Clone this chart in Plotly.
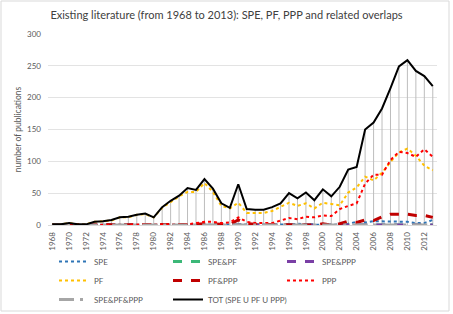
import plotly.graph_objects as go

years = list(range(1968, 2014))

tot = [1, 1, 3, 1, 1, 5, 6, 8, 12, 13, 16, 18, 12, 28, 38, 46, 58, 55, 72, 57,
       34, 27, 64, 25, 24, 24, 28, 34, 50, 42, 51, 39, 56, 45, 60, 87, 91, 150,
       161, 183, 215, 249, 259, 242, 234, 218]
pf = [1, 1, 3, 1, 1, 5, 6, 7, 12, 12, 16, 17, 12, 27, 36, 45, 52, 52, 66, 52,
      30, 26, 35, 19, 19, 19, 22, 28, 35, 30, 34, 26, 35, 33, 31, 51, 59, 76,
      70, 82, 99, 114, 120, 109, 93, 86]
ppp = [0, 0, 0, 0, 0, 0, 0, 0, 0, 0, 0, 0, 0, 0, 0, 0, 1, 3, 5, 5,
       3, 4, 12, 5, 3, 3, 3, 7, 11, 9, 13, 12, 15, 14, 25, 30, 34, 65,
       79, 79, 102, 115, 113, 107, 119, 107]
pf_ppp = [0, 0, 0, 0, 0, 0, 0, 0, 0, 0, 0, 0, 0, 0, 0, 0, 0, 1, 2, 2,
          1, 1, 8, 2, 1, 1, 1, 1, 0, 0, 0, 0, 2, 0, 2, 6, 4, 8,
          7, 13, 17, 17, 17, 15, 15, 12]
spe = [0, 0, 0, 0, 0, 0, 0, 0, 0, 0, 0, 0, 0, 0, 0, 0, 0, 0, 0, 0,
       0, 0, 1, 0, 0, 0, 0, 0, 1, 2, 1, 0, 0, 0, 1, 2, 5, 4,
       6, 6, 5, 5, 5, 3, 3, 8]
spe_pf = [0] * 41 + [1, 1, 0, 0, 0]
spe_ppp = [0, 0, 0, 0, 0, 0, 0, 0, 0, 0, 0, 0, 0, 0, 0, 0, 0, 0, 0, 0,
           0, 0, 0, 1, 0, 1, 0, 0, 1, 0, 0, 0, 0, 0, 1, 0, 0, 0,
           1, 0, 1, 0, 0, 0, 1, 0]
spe_pf_ppp = [0] * 46

series = [
    ("SPE", spe, dict(color="#2e75b6", width=2, dash="dot")),
    ("SPE&PF", spe_pf, dict(color="#3cb878", width=3, dash="dash")),
    ("SPE&PPP", spe_ppp, dict(color="#7a3fa5", width=3, dash="dash")),
    ("PF", pf, dict(color="#ffc000", width=2, dash="dot")),
    ("PF&PPP", pf_ppp, dict(color="#c00000", width=3, dash="dash")),
    ("PPP", ppp, dict(color="#ff0000", width=2, dash="dot")),
    ("SPE&PF&PPP", spe_pf_ppp, dict(color="#a6a6a6", width=3, dash="longdashdot")),
    ("TOT (SPE U PF U PPP)", tot, dict(color="#000000", width=2, dash="solid")),
]

fig = go.Figure()

# drop lines from TOT to the axis
dx, dy = [], []
for yr, v in zip(years, tot):
    dx += [yr, yr, None]
    dy += [0, v, None]
fig.add_trace(go.Scatter(x=dx, y=dy, mode="lines", showlegend=False, hoverinfo="skip",
                         line=dict(color="#bdbdbd", width=1)))

for name, vals, ln in series:
    fig.add_trace(go.Scatter(x=years, y=vals, name=name, mode="lines", line=ln))

W, H = 453, 314
ml, mr, mt, mb = 48, 16, 34, 89
pw, ph = W - ml - mr, H - mt - mb

fig.update_layout(
    width=W, height=H,
    margin=dict(l=ml, r=mr, t=mt, b=mb, autoexpand=False),
    paper_bgcolor="white", plot_bgcolor="white",
    font=dict(family="Lato, Open Sans, sans-serif", color="#595959", size=9),
    title=dict(text="Existing literature (from 1968 to 2013): SPE, PF, PPP and related overlaps",
               x=0.5, xanchor="center", y=1 - 15 / H, yanchor="middle",
               font=dict(size=11, color="#404040")),
    xaxis=dict(range=[1967.5, 2013.5], tickmode="array",
               tickvals=years[::2], ticktext=[str(y) for y in years[::2]],
               tickangle=-90, showgrid=False, zeroline=False,
               showline=True, linecolor="#d9d9d9", linewidth=1,
               ticks="", ticklabelstandoff=3, tickfont=dict(size=8, color="#595959")),
    yaxis=dict(range=[0, 300], dtick=50, showgrid=True, gridcolor="#e3e3e3", gridwidth=1,
               zeroline=False, showline=False, ticks="", ticklabelstandoff=6,
               tickfont=dict(size=8, color="#595959"),
               title=dict(text="number of publications", font=dict(size=8.5, color="#595959"),
                          standoff=4)),
    legend=dict(orientation="h", x=(54 - ml) / pw, xanchor="left",
                y=-(314 - (mt + ph)) / ph, yanchor="bottom",
                entrywidth=69, entrywidthmode="pixels", itemwidth=30,
                font=dict(size=8, color="#595959"), tracegroupgap=0,
                bgcolor="rgba(0,0,0,0)"),
    shapes=[dict(type="rect", xref="paper", yref="paper",
                 x0=-(ml - 1) / pw, x1=1 + (mr - 4) / pw,
                 y0=-(mb - 3) / ph, y1=1 + (mt - 1) / ph,
                 line=dict(color="#d9d9d9", width=1), fillcolor="rgba(0,0,0,0)", layer="below")],
)

fig.write_html("out.html")
